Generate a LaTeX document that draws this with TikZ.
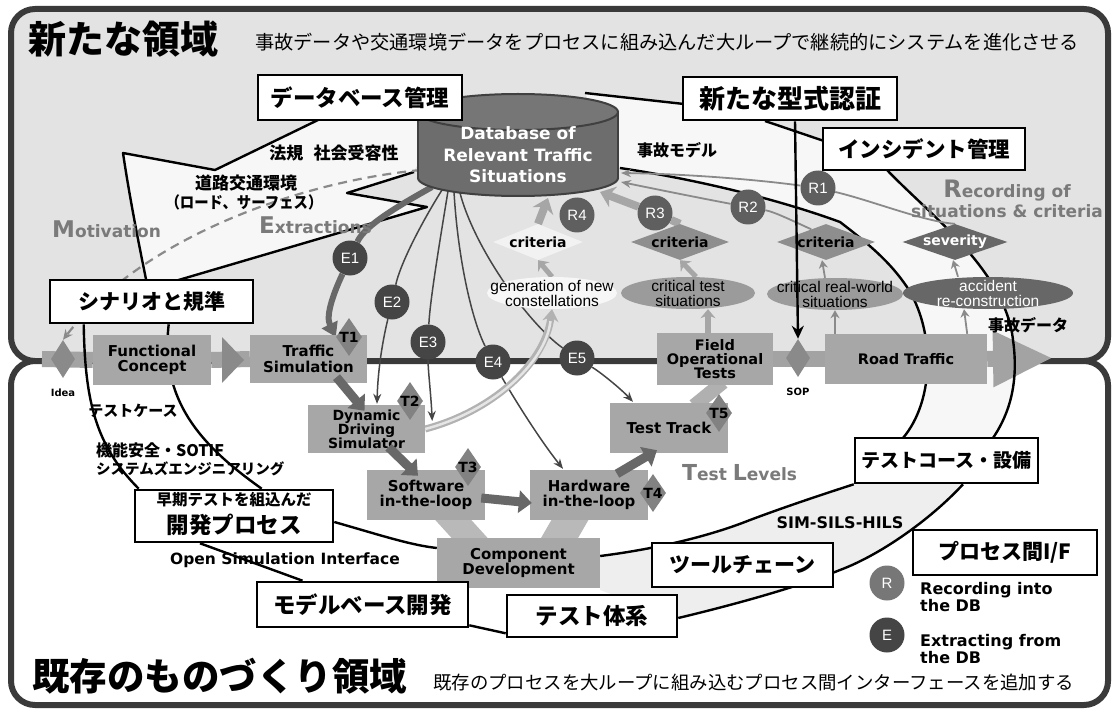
\documentclass[tikz,border=0pt]{standalone}
\usepackage{fontspec}
\setmainfont{Liberation Sans}
\newfontfamily\jp{Noto Sans CJK JP}
\newfontfamily\dv{DejaVu Sans}
\usetikzlibrary{arrows.meta,shapes.geometric,calc}
\pgfdeclarelayer{back}
\pgfdeclarelayer{fills}
\pgfdeclarelayer{band}
\pgfdeclarelayer{lines}
\pgfdeclarelayer{over}
\pgfdeclarelayer{front}
\pgfsetlayers{back,fills,band,lines,main,over,front}
\newcommand\fsz[2]{\fontsize{#1}{#2}\selectfont}
\definecolor{framec}{HTML}{3A3A3A}
\definecolor{topbg}{HTML}{E3E3E3}
\definecolor{calloutbg}{HTML}{F7F7F7}
\definecolor{bandbg}{HTML}{EEEEEE}
\definecolor{boxg}{HTML}{A7A7A7}
\definecolor{diag}{HTML}{828282}
\definecolor{ecol}{HTML}{454545}
\definecolor{rcol}{HTML}{5F5F5F}
\definecolor{dbcol}{HTML}{6D6D6D}
\definecolor{dbedge}{HTML}{404040}
\definecolor{biglab}{HTML}{7A7A7A}
\definecolor{testarr}{HTML}{686868}
\definecolor{lightarr}{HTML}{A6A6A6}
\definecolor{critc}{HTML}{8E8E8E}
\definecolor{darkc}{HTML}{676767}
\definecolor{ellc}{HTML}{9B9B9B}
\definecolor{thinc}{HTML}{8A8A8A}
\definecolor{bandc}{HTML}{A3A3A3}
\definecolor{chevc}{HTML}{8A8A8A}
\definecolor{compc}{HTML}{B9B9B9}
\tikzset{
  jbox/.style={draw=black, line width=2.6pt, fill=white, inner sep=0pt, align=center, font=\jp\bfseries\fsz{22.5}{25}},
  gbox/.style={fill=boxg, inner sep=0pt, align=center, font=\dv\bfseries\fsz{15}{15.5}},
  tdia/.style={diamond, fill=diag, minimum width=26pt, minimum height=38pt, inner sep=0pt},
  tlab/.style={font=\dv\bfseries\fsz{14}{14}, inner sep=0pt},
  ecirc/.style={circle, fill=ecol, minimum size=35pt, inner sep=0pt, text=white, font=\fsz{15}{15}},
  rcirc/.style={circle, fill=rcol, minimum size=35pt, inner sep=0pt, text=white, font=\fsz{15}{15}},
  critd/.style={diamond, aspect=3, inner sep=0pt, minimum height=36pt, font=\dv\bfseries\fsz{14}{14}},
  ellnode/.style={ellipse, inner sep=0pt, minimum height=32pt},
  elltxt/.style={align=center, font=\fsz{15.5}{15}, inner sep=0pt},
  cline/.style={draw=black, line width=2.4pt, line join=round},
  eseg/.style={draw=ecol, line width=1.5pt},
  eline/.style={eseg, -{Stealth[length=10pt,width=8pt]}},
  rseg/.style={draw=thinc, line width=1.8pt},
  rline/.style={rseg, -{Stealth[length=10pt,width=8pt]}},
  fatseg/.style={draw=lightarr, line width=8pt},
  fatarrow/.style={fatseg, -{Stealth[length=14pt,width=22pt]}},
  fatup/.style={draw=lightarr, line width=5pt, -{Stealth[length=9pt,width=15pt]}},
  thinup/.style={draw=thinc, line width=1.8pt, -{Stealth[length=8pt,width=9pt]}},
  testarrow/.style={draw=testarr, line width=9pt, -{Triangle[length=13pt,width=22pt]}},
  bandline/.style={draw=bandc, line width=16pt},
  biglabel/.style={text=biglab, font=\dv\bfseries, inner sep=0pt, anchor=west},
  jtxt/.style={font=\jp\bfseries\fsz{17}{19}, inner sep=0pt},
  etxt/.style={font=\dv\bfseries\fsz{15.5}{17}, inner sep=0pt},
}
\begin{document}
\begin{tikzpicture}[x=1pt,y=-1pt]
\useasboundingbox (0,0) rectangle (1115,711);

% ---------- frames
\begin{pgfonlayer}{back}
\draw[framec, line width=6pt, fill=topbg, rounded corners=24pt] (11,9) rectangle (1108,361);
\draw[framec, line width=6pt, fill=white, rounded corners=24pt] (11,361) rectangle (1108,705);
\end{pgfonlayer}

% ---------- titles
\begin{pgfonlayer}{front}
\node[anchor=west, inner sep=0pt, font=\jp\bfseries\fsz{38}{40}] (title1) at (28,39) {新たな領域};
\node[anchor=west, inner sep=0pt, font=\jp\fsz{19.2}{22}] (sub1) at (255,42) {事故データや交通環境データをプロセスに組み込んだ大ループで継続的にシステムを進化させる};
\node[anchor=west, inner sep=0pt, font=\jp\bfseries\fsz{37.5}{40}] (title2) at (32,676) {既存のものづくり領域};
\node[anchor=west, inner sep=0pt, font=\jp\fsz{18.4}{22}] (sub2) at (433,682) {既存のプロセスを大ループに組み込むプロセス間インターフェースを追加する};
\end{pgfonlayer}

% ---------- database cylinder
\filldraw[fill=dbcol, draw=dbedge, line width=2pt] (518,178) ellipse [x radius=100, y radius=18];
\fill[dbcol] (418,112) rectangle (618,178);
\draw[dbedge, line width=2pt] (418,112) -- (418,178) (618,112) -- (618,178);
\filldraw[fill=dbcol!94!white, draw=dbedge, line width=2pt] (518,112) ellipse [x radius=100, y radius=18];
\node[font=\dv\bfseries\fsz{17}{21.5}, text=white, align=center, inner sep=0pt] (db) at (518,155) {Database of\\Relevant Traffic\\Situations};
\coordinate (dbL) at (421,170);
\coordinate (dbe1) at (432,187);
\coordinate (dbe2) at (442,190);
\coordinate (dbe3) at (448,191);
\coordinate (dbe4) at (454,192);
\coordinate (dbe5) at (460,193);
\coordinate (dbr1) at (621,173);
\coordinate (dbr2) at (621,182);
\coordinate (dbr3) at (600,192);
\coordinate (dbr4) at (548,198);

% ---------- process boxes
\node[gbox, minimum width=118pt, minimum height=50pt] (fc) at (152,360) {Functional\\Concept};
\node[gbox, minimum width=117pt, minimum height=48pt] (ts) at (308.5,359) {Traffic\\Simulation};
\node[gbox, minimum width=117pt, minimum height=48pt, font=\dv\bfseries\fsz{14}{14}] (dds) at (366.5,429) {Dynamic\\Driving\\Simulator};
\node[gbox, minimum width=118pt, minimum height=50pt] (sil) at (426,495) {Software\\in-the-loop};
\node[gbox, minimum width=118pt, minimum height=50pt] (hil) at (589,495) {Hardware\\in-the-loop};
\node[gbox, minimum width=163pt, minimum height=50pt] (comp) at (518.5,563) {Component\\Development};
\node[gbox, minimum width=118pt, minimum height=50pt] (tt) at (669,428) {Test Track};
\node[gbox, minimum width=116pt, minimum height=52pt, font=\dv\bfseries\fsz{14.5}{14}] (fot) at (715,359) {Field\\Operational\\Tests};
\node[gbox, minimum width=162pt, minimum height=50pt, font=\dv\bfseries\fsz{14.5}{15}] (road) at (906,359) {Road Traffic};
\coordinate (arrowtip) at (1053,358);

\node[tdia, minimum width=24pt, fill=chevc] (idea) at (63,359) {};
\node[tdia, minimum width=24pt, fill=chevc] (sop) at (798,358) {};
\node[tdia] (t1) at (349,337) {};
\node[tlab] at (t1) {T1};
\node[tdia] (t2) at (410,401) {};
\node[tlab] at (t2) {T2};
\node[tdia] (t3) at (468,467) {};
\node[tlab] at (t3) {T3};
\node[tdia] (t4) at (653,493) {};
\node[tlab] at (t4) {T4};
\node[tdia] (t5) at (719,413) {};
\node[tlab] at (t5) {T5};

% ---------- situations / criteria
\node[ellnode, minimum width=130pt, fill=white!97!black] (gen) at (552,293) {};
\node[elltxt] at (gen) {generation of new\\constellations};
\node[ellnode, minimum width=134pt, fill=ellc] (cts) at (688,293) {};
\node[elltxt] at (cts) {critical test\\situations};
\node[ellnode, minimum width=136pt, fill=ellc] (crw) at (835,294) {};
\node[elltxt] at (crw) {critical real-world\\situations};
\node[ellnode, minimum width=170pt, fill=darkc] (acc) at (988,293) {};
\node[elltxt, text=white] at (acc) {accident\\re-construction};

\node[critd, minimum width=88pt, fill=white!95!black] (c1) at (538,242) {criteria};
\node[critd, minimum width=98pt, fill=critc] (c2) at (680,242) {criteria};
\node[critd, minimum width=98pt, fill=critc] (c3) at (826,242) {criteria};
\node[critd, minimum width=100pt, fill=darkc, text=white] (sev) at (955,242) {severity};

% ---------- E / R circles
\node[ecirc] (E1) at (350,258) {E1};
\node[ecirc] (E2) at (392,302) {E2};
\node[ecirc] (E3) at (428,342) {E3};
\node[ecirc] (E4) at (493,362) {E4};
\node[ecirc] (E5) at (577,358) {E5};
\node[rcirc] (R1) at (818,188) {R1};
\node[rcirc] (R2) at (748,207) {R2};
\node[rcirc] (R3) at (655,213) {R3};
\node[rcirc] (R4) at (577,215) {R4};

% ---------- callout boxes and texts
\begin{pgfonlayer}{front}
\node[jbox, minimum width=204pt, minimum height=45pt] (dbm) at (360,97.5) {データベース管理};
\node[jbox, minimum width=214pt, minimum height=43pt, font=\jp\bfseries\fsz{26}{28}] (kata) at (790,98.5) {新たな型式認証};
\node[jbox, minimum width=202pt, minimum height=42pt, font=\jp\bfseries\fsz{21.5}{24}] (inc) at (924,149) {インシデント管理};
\node[jbox, minimum width=203pt, minimum height=43pt, font=\jp\bfseries\fsz{21}{24}] (scen) at (151.5,301.5) {シナリオと規準};
\node[jbox, minimum width=198pt, minimum height=52pt] (dev) at (234,516) {};
\node[font=\jp\bfseries\fsz{15.5}{17}, inner sep=0pt] (devs) at (234,500) {早期テストを組込んだ};
\node[font=\jp\bfseries\fsz{22.5}{25}, inner sep=0pt] (devb) at (234,525) {開発プロセス};
\node[jbox, minimum width=211pt, minimum height=45pt] (mbd) at (362.5,604.5) {モデルベース開発};
\node[jbox, minimum width=170pt, minimum height=42pt] (tsys) at (592,616) {テスト体系};
\node[jbox, minimum width=181pt, minimum height=44pt, font=\jp\bfseries\fsz{21}{24}] (tool) at (742.5,565) {ツールチェーン};
\node[jbox, minimum width=183pt, minimum height=45pt, font=\jp\bfseries\fsz{19}{22}] (course) at (946.5,460.5) {テストコース・設備};
\node[jbox, minimum width=184pt, minimum height=45pt, font=\jp\bfseries\fsz{21}{24}] (pif) at (1005,552.5) {プロセス間I/F};

\node[jtxt] (hoki) at (334,153) {法規\hspace{0.6em}社会受容性};
\node[jtxt] (doro) at (246,183) {道路交通環境};
\node[jtxt] (surf) at (244,202) {\scalebox{0.9}[1]{\fsz{16}{18}（ロード、サーフェス）}};
\node[jtxt, font=\jp\bfseries\fsz{16}{18}] (jm) at (677,150) {事故モデル};
\node[jtxt, font=\jp\bfseries\fsz{16}{18}] (jd) at (1028,325) {事故データ};
\node[jtxt, font=\jp\bfseries\fsz{15}{17}] (tcase) at (133,411) {テストケース};
\node[jtxt, anchor=west, font=\jp\bfseries\fsz{16}{18}] (kino) at (96,450) {機能安全・SOTIF};
\node[jtxt, anchor=west, font=\jp\bfseries\fsz{14.5}{16}] (syse) at (96,469) {システムズエンジニアリング};
\node[etxt] (osi) at (285,560) {Open Simulation Interface};
\node[etxt, font=\dv\bfseries\fsz{16}{17}] (simsils) at (840,523) {SIM-SILS-HILS};
\node[font=\dv\bfseries\fsz{10}{11}, inner sep=0pt] (idealab) at (63,393) {Idea};
\node[font=\dv\bfseries\fsz{10}{11}, inner sep=0pt] (soplab) at (798,392) {SOP};

\node[biglabel] (motiv) at (52,229) {\fsz{23}{24}M\fsz{17}{20}otivation};
\node[biglabel] (extr) at (259,225) {\fsz{23}{24}E\fsz{17}{20}xtractions};
\node[biglabel, anchor=center] (rec1) at (1007,191) {\fsz{24}{24}R\fsz{17}{20}ecording of};
\node[biglabel, anchor=center] (rec2) at (1007,211) {\fsz{17}{20}situations \& criteria};
\node[biglabel] (tlev) at (682,473) {\fsz{22}{22}T\fsz{17}{20}est \fsz{22}{22}L\fsz{17}{20}evels};

\node[rcirc, fill=rcol!85!white] (legR) at (887,583) {R};
\node[ecirc] (legE) at (887,635) {E};
\node[anchor=west, align=left, font=\dv\bfseries\fsz{16}{17}, inner sep=0pt] (legRt) at (920,597) {Recording into\\the DB};
\node[anchor=west, align=left, font=\dv\bfseries\fsz{16}{17}, inner sep=0pt] (legEt) at (920,649) {Extracting from\\the DB};
\end{pgfonlayer}

% ---------- callout fills
\begin{pgfonlayer}{fills}
\fill[calloutbg] (318,120) -- (215,170) -- (123,153) .. controls (130,200) and (140,250) .. (147,284) -- (165,284) -- (427,207) -- (347,193) -- (412,173) -- (421,160) -- (421,120) -- cycle;
\fill[calloutbg] (585,93) -- (684,104) -- (684,120) -- (765,120) -- (824,141) -- (824,170) -- (887,170) .. controls (930,215) and (1005,270) .. (1013,340) .. controls (1020,390) and (1005,420) .. (993,438) -- (903,438) .. controls (935,400) and (935,330) .. (907,287) .. controls (890,262) and (870,245) .. (840,222) .. controls (780,200) and (700,180) .. (620,168) -- cycle;
\fill[bandbg] (600,556) .. controls (640,551) and (700,540) .. (750,520) .. controls (790,505) and (830,492) .. (855,483) -- (963,483) .. controls (930,520) and (880,555) .. (840,570) .. controls (790,590) and (720,608) .. (677,618) -- (600,590) -- cycle;
\end{pgfonlayer}

% ---------- main process band
\begin{pgfonlayer}{band}
\draw[bandline] ($(idea.center)+(-21,0)$) -- (fc.west);
\draw[bandline] (fc.east) -- (ts.west);
\fill[chevc] (222,337) -- (244,360) -- (222,383) -- cycle;
\draw[bandline] (fot.east) -- (road.west);
\draw[bandline, -{Triangle[length=60pt,width=52pt]}] (road.east) -- (arrowtip);
\end{pgfonlayer}

% ---------- lines
\begin{pgfonlayer}{lines}
% callout outlines
\draw[cline] (318,120) -- (215,170) -- (123,153) .. controls (130,200) and (140,250) .. (147,284);
\draw[cline] (165,284) -- (427,207) -- (347,193) -- (414,172);
\draw[cline] (585,93) -- (684,104);
\draw[cline] (765,121) -- (824,141);
\draw[cline] (887,170) .. controls (930,215) and (1005,270) .. (1013,340) .. controls (1020,390) and (1005,420) .. (993,438);
\draw[cline] (903,438) .. controls (935,400) and (935,330) .. (907,287) .. controls (890,262) and (870,245) .. (840,222) .. controls (780,200) and (700,180) .. (620,168);
\draw[cline] ($(comp.east)+(0,-7)$) .. controls (640,551) and (700,540) .. (750,520) .. controls (790,505) and (830,492) .. (course.south west);
\draw[cline] ($(course.south)+(16.5,0)$) .. controls (930,520) and (880,555) .. (840,570) .. controls (790,590) and (720,608) .. ($(tsys.east)+(0,2)$);
\draw[cline] ($(scen.south west)+(35,0)$) .. controls (85,400) and (95,445) .. ($(dev.north west)+(5,0)$);
\draw[cline] ($(scen.south west)+(120,0)$) .. controls (160,400) and (200,445) .. ($(dev.north west)+(128,0)$);
\draw[cline] ($(dev.east)+(0,6)$) .. controls (380,535) and (410,545) .. ($(comp.west)+(0,-15)$);
\draw[cline] ($(dev.south)+(-34,0)$) -- ($(mbd.north)+(-60,0)$);
\draw[cline] ($(mbd.south east)+(0,-3)$) -- ($(tsys.south west)+(0,-5)$);

% motivation dashed
\draw[draw=thinc, line width=2.2pt, dash pattern=on 9pt off 6pt, -{Stealth[length=10pt,width=9pt]}] (dbL) .. controls (295,182) and (140,240) .. (idea.north);

% component legs (V), test track to FOT
\fill[compc] (458,545) -- (494,545) -- (464,512) -- (428,512) -- cycle;
\fill[compc] (537,545) -- (574,545) -- (593,512) -- (556,512) -- cycle;
\draw[draw=compc!95!black, line width=14pt] ($(tt.north)+(25,3)$) -- ($(fot.south)+(8,-3)$);

% E lines
\draw[draw=testarr, line width=6pt] (dbe1) .. controls (400,205) and (365,225) .. (E1);
\draw[draw=testarr, line width=6pt, -{Triangle[length=14pt,width=17pt]}] (E1) .. controls (335,290) and (325,315) .. (t1.west);
\draw[eseg] (dbe2) .. controls (420,225) and (400,265) .. (E2);
\draw[eline] (E2) .. controls (384,335) and (378,365) .. ($(dds.north)+(10.5,-1)$);
\draw[eseg] (dbe3) .. controls (440,240) and (430,300) .. (E3);
\draw[eline] (E3) .. controls (428,370) and (431,395) .. ($(dds.east)+(7,-8)$);
\draw[eseg] (dbe4) .. controls (458,260) and (472,320) .. (E4);
\draw[eline] (E4) .. controls (515,400) and (540,440) .. ($(hil.north)+(-26,-1)$);
\draw[eseg] (dbe5) .. controls (475,250) and (530,325) .. (E5);
\draw[eline] (E5) .. controls (600,372) and (620,388) .. ($(tt.north)+(-36,-1)$);

% R lines
\draw[rseg] (sev.north) .. controls (925,222) and (870,200) .. (R1);
\draw[rline] (R1) .. controls (760,180) and (690,174) .. (dbr1);
\draw[rseg] ($(c3.north)!0.3!(c3.west)$) .. controls (795,222) and (775,212) .. (R2);
\draw[rline] (R2) .. controls (710,200) and (660,190) .. (dbr2);
\draw[fatseg] (c2.north) -- (R3);
\draw[fatarrow] (R3) -- (dbr3);
\draw[fatarrow] (c1.north) -- (dbr4);

% small upward arrows
\draw[fatup] (gen.north) -- (c1.south);
\draw[fatup] ($(cts.north)+(8,0)$) -- (c2.south);
\draw[fatup, line width=6pt] ($(fot.north)+(-7,0)$) -- ($(cts.south)+(20,0)$);
\draw[thinup] (crw.south |- road.north) -- (crw.south);
\draw[thinup] ($(crw.north)+(-10,0)$) -- ($(c3.south)+(-4,0)$);
\draw[thinup] ($(road.north east)+(-20,0)$) -- ($(acc.south)+(-24,0)$);
\draw[thinup] ($(acc.north)+(-30,0)$) -- ($(sev.south)+(-2,0)$);

% glow arrow DDS -> generation
\draw[draw=white!70!black, line width=7pt, -{Stealth[length=12pt,width=16pt]}] (dds.east) .. controls (490,412) and (545,365) .. (gen.south);
\draw[draw=white!90!black, line width=2.5pt, shorten >=12pt] (dds.east) .. controls (490,412) and (545,365) .. (gen.south);
\end{pgfonlayer}

% ---------- over layer
\begin{pgfonlayer}{over}
\draw[testarrow] ($(ts.south)+(28,-6)$) -- ($(dds.north)+(-2,6)$);
\draw[testarrow] ($(dds.south)+(22,-6)$) -- ($(sil.north)+(-8,6)$);
\draw[testarrow] ($(sil.east)+(-4,3)$) -- ($(hil.west)+(2,8)$);
\draw[testarrow] ($(hil.north)+(28,4)$) -- ($(tt.south)+(-12,-3)$);
\draw[cline, -{Stealth[length=13pt,width=12pt]}] ($(kata.south)+(5,0)$) -- (sop.north);
\end{pgfonlayer}
\end{tikzpicture}
\end{document}
